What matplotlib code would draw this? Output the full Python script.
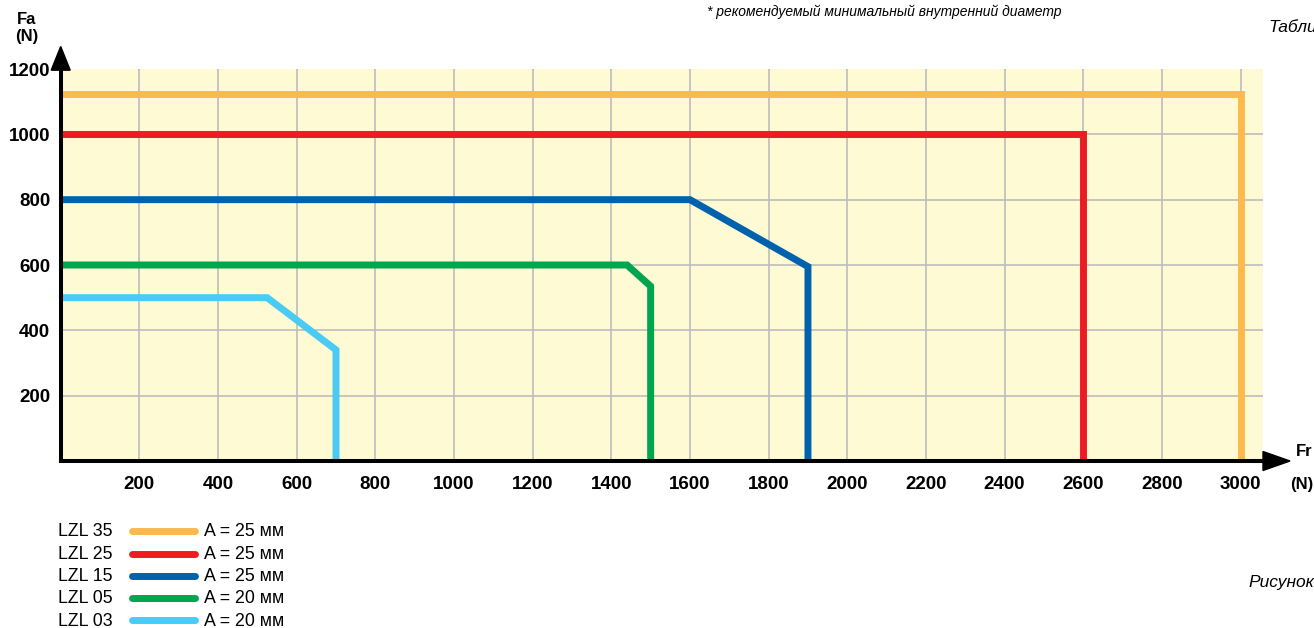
import matplotlib
matplotlib.use("Agg")
import matplotlib.pyplot as plt
from matplotlib.patches import Polygon
from matplotlib.lines import Line2D
from matplotlib import font_manager

# ---- data -------------------------------------------------------------
series_names = ["LZL 35", "LZL 25", "LZL 15", "LZL 05", "LZL 03"]
series_notes = ["A = 25 мм", "A = 25 мм", "A = 25 мм", "A = 20 мм", "A = 20 мм"]
series_colors = ["#FDB94C", "#ED1C24", "#0062AD", "#00A550", "#4ACBF4"]

lzl35_fr = [0, 3000, 3000]
lzl35_fa = [1125, 1125, 0]
lzl25_fr = [0, 2600, 2600]
lzl25_fa = [1000, 1000, 0]
lzl15_fr = [0, 1600, 1900, 1900]
lzl15_fa = [800, 800, 595, 0]
lzl05_fr = [0, 1440, 1500, 1500]
lzl05_fa = [600, 600, 535, 0]
lzl03_fr = [0, 525, 700, 700]
lzl03_fa = [500, 500, 340, 0]

x_ticks = [200, 400, 600, 800, 1000, 1200, 1400, 1600, 1800, 2000,
           2200, 2400, 2600, 2800, 3000]
y_ticks = [200, 400, 600, 800, 1000, 1200]

# ---- fonts ------------------------------------------------------------
installed = {f.name for f in font_manager.fontManager.ttflist}
base_font = "Liberation Sans" if "Liberation Sans" in installed else "DejaVu Sans"
narrow_font = "Liberation Sans Narrow" if "Liberation Sans Narrow" in installed else base_font
plt.rcParams["font.family"] = [base_font, "DejaVu Sans"]

W, H = 1314, 628
fig = plt.figure(figsize=(W / 100, H / 100), dpi=100)
fig.patch.set_facecolor("white")


def fx(px):
    return px / W


def fy(py):
    return 1 - py / H


ax_l, ax_r, ax_t, ax_b = 60.7, 1263, 69, 461
ax = fig.add_axes([fx(ax_l), fy(ax_b), (ax_r - ax_l) / W, (ax_b - ax_t) / H])
ax.set_facecolor("#FEFAD4")
ax.set_xlim(0, 3057)
ax.set_ylim(0, 1200)

# grid
grid_kw = dict(color="#BDBDBD", lw=1.2, zorder=1)
for v in x_ticks:
    ax.axvline(v, **grid_kw)
for v in y_ticks[:-1]:
    ax.axhline(v, **grid_kw)

# curves
all_fr = [lzl35_fr, lzl25_fr, lzl15_fr, lzl05_fr, lzl03_fr]
all_fa = [lzl35_fa, lzl25_fa, lzl15_fa, lzl05_fa, lzl03_fa]
for fr, fa, c in zip(all_fr, all_fa, series_colors):
    ax.plot(fr, fa, color=c, lw=5.0, solid_joinstyle="miter",
            solid_capstyle="butt", zorder=3)

# axes frame
for s in ("top", "right"):
    ax.spines[s].set_visible(False)
for s in ("left", "bottom"):
    ax.spines[s].set_linewidth(2.9)
    ax.spines[s].set_color("black")
    ax.spines[s].set_zorder(5)

ax.set_xticks(x_ticks)
ax.set_xticklabels([str(v) for v in x_ticks])
ax.set_yticks(y_ticks)
ax.set_yticklabels([str(v) for v in y_ticks])
ax.tick_params(axis="x", length=0, pad=11.0, labelsize=13.5)
ax.tick_params(axis="y", length=0, pad=7.5, labelsize=13.5)
for lab in ax.get_xticklabels() + ax.get_yticklabels():
    lab.set_fontweight("bold")

# arrow heads
ax_w_px = ax_r - ax_l
ax_h_px = ax_b - ax_t
hw_y = 9.5 / ax_w_px
ax.add_patch(Polygon([(-hw_y, 0.997), (hw_y, 0.997), (0, (ax_b - 46.5) / ax_h_px)],
                     closed=True, transform=ax.transAxes, color="black",
                     clip_on=False, zorder=6))
hh_x = 9.5 / ax_h_px
ax.add_patch(Polygon([(1.0, -hh_x), (1.0, hh_x), ((1290 - ax_l) / ax_w_px, 0)],
                     closed=True, transform=ax.transAxes, color="black",
                     clip_on=False, zorder=6))
ax.plot([0.99, 1.0], [0, 0], transform=ax.transAxes, color="black", lw=2.9,
        clip_on=False, zorder=6, solid_capstyle="butt")

# axis titles
fig.text(fx(26.5), fy(20), "Fa", ha="center", va="center", fontsize=12, fontweight="bold")
fig.text(fx(26.5), fy(36.5), "(N)", ha="center", va="center", fontsize=12, fontweight="bold")
fig.text(fx(1296), fy(451.5), "Fr", ha="left", va="center", fontsize=12, fontweight="bold")
fig.text(fx(1290), fy(484), "(N)", ha="left", va="center", fontsize=12, fontweight="bold")

# notes
fig.text(fx(707), fy(12), "* рекомендуемый минимальный внутренний диаметр",
         ha="left", va="center", fontsize=10, style="italic", family=narrow_font)
fig.text(fx(1268), fy(27), "Таблица", ha="left", va="center", fontsize=12.5, style="italic")
fig.text(fx(1248), fy(583), "Рисунок", ha="left", va="center", fontsize=12.5, style="italic")

# legend
row_y = [532, 554.5, 576.5, 598.5, 621]
for name, note, c, y in zip(series_names, series_notes, series_colors, row_y):
    fig.text(fx(58), fy(y), name, ha="left", va="center", fontsize=12.8)
    fig.add_artist(Line2D([fx(132), fx(195)], [fy(y - 1), fy(y - 1)], color=c, lw=5.0,
                          solid_capstyle="round", transform=fig.transFigure))
    fig.text(fx(204), fy(y), note, ha="left", va="center", fontsize=12.8)

fig.savefig("out.png", dpi=100)
